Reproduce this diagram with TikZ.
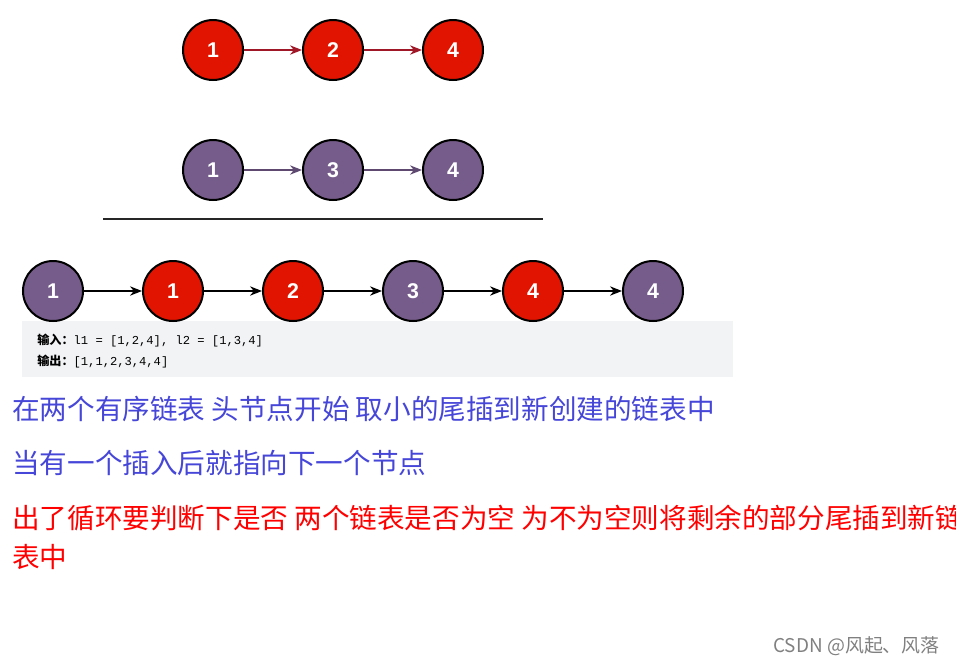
\documentclass[tikz,border=0pt]{standalone}
\usepackage{fontspec}
\setmainfont{Liberation Sans}
\newfontfamily\cjk{Noto Sans CJK SC}
\newfontfamily\monof{Liberation Mono}
\usetikzlibrary{arrows.meta}
\definecolor{nred}{HTML}{E01400}
\definecolor{npur}{HTML}{765C8A}
\definecolor{txtblue}{HTML}{4646D8}
\definecolor{codebg}{HTML}{F2F3F5}
\definecolor{arred}{HTML}{A01828}
\definecolor{arpur}{HTML}{5E4A70}
\tikzset{
  lnode/.style={circle, draw=black, line width=1.5pt, minimum size=45pt, inner sep=0pt,
    text=white, font=\fontsize{16}{16}\selectfont\bfseries},
  rednode/.style={lnode, fill=nred},
  purnode/.style={lnode, fill=npur},
  link/.style={-{Stealth[length=9pt,width=7pt]}, line width=1pt},
  desc/.style={anchor=west, inner sep=0pt, font=\cjk\fontsize{20.7}{20.7}\selectfont},
  codetxt/.style={anchor=west, inner sep=0pt, font=\fontsize{9.1}{9.1}\selectfont},
}
\begin{document}
\begin{tikzpicture}[x=0.75pt,y=-0.75pt]
\useasboundingbox (0,0) rectangle (956,665);
\clip (0,0) rectangle (956,665);
% row 1
\node[rednode] (a1) at (213,50) {1};
\node[rednode] (a2) at (333,50) {2};
\node[rednode] (a3) at (453,50) {4};
\draw[link, arred] (a1) -- (a2);
\draw[link, arred] (a2) -- (a3);
% row 2
\node[purnode] (b1) at (213,170) {1};
\node[purnode] (b2) at (333,170) {3};
\node[purnode] (b3) at (453,170) {4};
\draw[link, arpur] (b1) -- (b2);
\draw[link, arpur] (b2) -- (b3);
% separator
\coordinate (s1) at (103,219);
\coordinate (s2) at (543,219);
\draw[line width=1.5pt, black!85] (s1) -- (s2);
% code box
\fill[codebg] (22,321) rectangle (733,377);
% row 3
\node[purnode] (c1) at (53,291) {1};
\node[rednode] (c2) at (173,291) {1};
\node[rednode] (c3) at (293,291) {2};
\node[purnode] (c4) at (413,291) {3};
\node[rednode] (c5) at (533,291) {4};
\node[purnode] (c6) at (653,291) {4};
\draw[link] (c1) -- (c2);
\draw[link] (c2) -- (c3);
\draw[link] (c3) -- (c4);
\draw[link] (c4) -- (c5);
\draw[link] (c5) -- (c6);
% code text
\node[codetxt] (in) at (37,341)
  {{\cjk\bfseries 输入：}{\monof l1 = [1,2,4], l2 = [1,3,4]}};
\node[codetxt] (out) at (37,362)
  {{\cjk\bfseries 输出：}{\monof [1,1,2,3,4,4]}};
% description
\node[desc, text=txtblue] (t1) at (12,409) {在两个有序链表 头节点开始 取小的尾插到新创建的链表中};
\node[desc, text=txtblue] (t2) at (12,463) {当有一个插入后就指向下一个节点};
\node[desc, text=red] (t3) at (12,518) {出了循环要判断下是否 两个链表是否为空 为不为空则将剩余的部分尾插到新链};
\node[desc, text=red] (t4) at (12,557) {表中};
% watermark
\node[anchor=east, inner sep=0pt, text=black!50, font=\cjk\fontsize{14.2}{14.2}\selectfont] (wm) at (940,646) {CSDN @风起、风落};
\end{tikzpicture}
\end{document}
